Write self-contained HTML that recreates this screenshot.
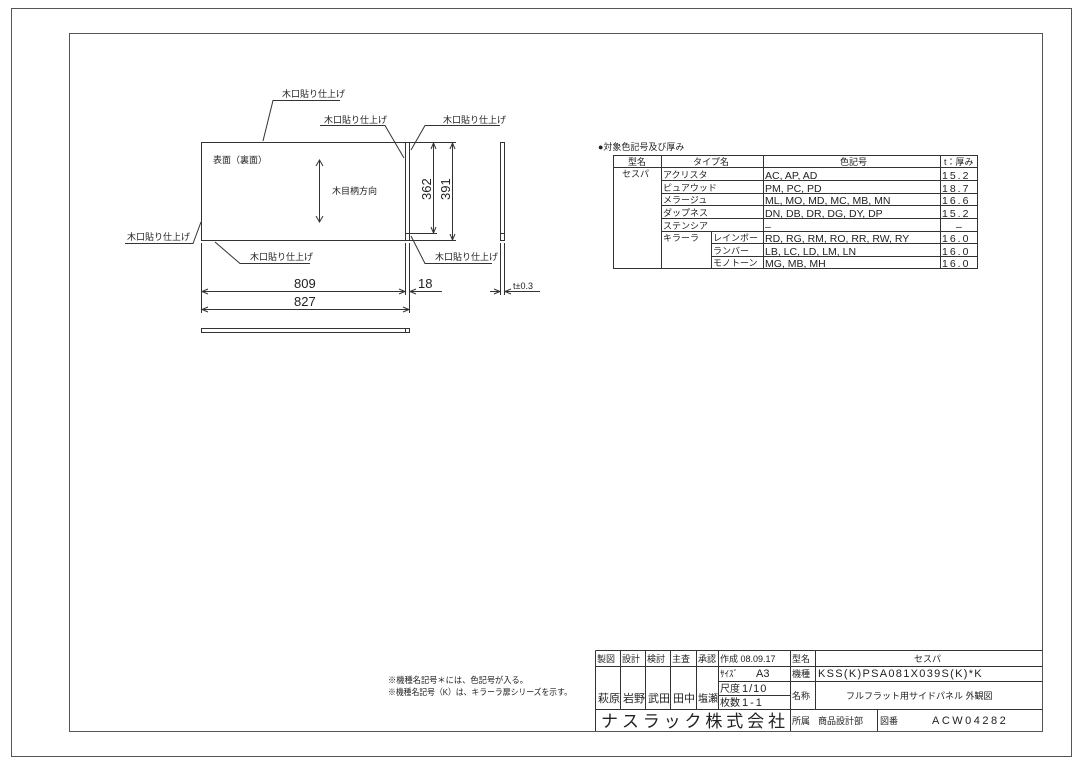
<!DOCTYPE html>
<html><head><meta charset="utf-8"><style>
html,body{margin:0;padding:0;background:#fff;}
svg{display:block;}
text{font-family:"Liberation Sans","Noto Sans CJK JP",sans-serif;fill:#222;}
.j{font-size:9px;}
.t{font-size:10.5px;}
</style></head><body>
<svg width="1080" height="764" viewBox="0 0 1080 764" xmlns="http://www.w3.org/2000/svg">
<g fill="none" stroke="#555" stroke-width="1">
<rect x="11.5" y="8.5" width="1060" height="748"/>
<rect x="69.5" y="33.5" width="973" height="698"/>
</g>
<g fill="none" stroke="#333" stroke-width="1">
<rect x="201.5" y="142.5" width="204" height="98"/>
<rect x="405.5" y="142.5" width="4" height="98"/>
<line x1="405.5" y1="233.5" x2="409.5" y2="233.5"/>
<line x1="319.5" y1="160" x2="319.5" y2="222"/>
<polyline points="316,166 319.5,160 323,166"/>
<polyline points="316,216 319.5,222 323,216"/>
<line x1="410" y1="142.5" x2="456" y2="142.5"/>
<line x1="410" y1="233.5" x2="437" y2="233.5"/>
<line x1="410" y1="240.5" x2="456" y2="240.5"/>
<line x1="433.5" y1="143" x2="433.5" y2="233"/>
<line x1="452.5" y1="143" x2="452.5" y2="240"/>
<polyline points="431,149 433.5,143 436,149"/><polyline points="431,227 433.5,233 436,227"/>
<polyline points="450,149 452.5,143 455,149"/><polyline points="450,234 452.5,240 455,234"/>
<line x1="201.5" y1="243" x2="201.5" y2="313"/>
<line x1="405.5" y1="243" x2="405.5" y2="295"/>
<line x1="409.5" y1="243" x2="409.5" y2="313"/>
<line x1="202" y1="291.5" x2="405" y2="291.5"/>
<polyline points="208,289 202,291.5 208,294"/><polyline points="399,289 405,291.5 399,294"/>
<line x1="410" y1="291.5" x2="442" y2="291.5"/>
<polyline points="416,289 410,291.5 416,294"/>
<line x1="202" y1="309.5" x2="409" y2="309.5"/>
<polyline points="208,307 202,309.5 208,312"/><polyline points="403,307 409,309.5 403,312"/>
<rect x="500.5" y="142.5" width="4" height="98"/>
<line x1="500.5" y1="233.5" x2="504.5" y2="233.5"/>
<line x1="500.5" y1="243" x2="500.5" y2="295"/>
<line x1="504.5" y1="243" x2="504.5" y2="295"/>
<line x1="490" y1="291.5" x2="500" y2="291.5"/>
<polyline points="494,289 500,291.5 494,294"/>
<line x1="505" y1="291.5" x2="540" y2="291.5"/>
<polyline points="511,289 505,291.5 511,294"/>
<rect x="201.5" y="328.5" width="208" height="4"/>
<line x1="405.5" y1="328.5" x2="405.5" y2="332.5"/>
<polyline points="340,100.5 273,100.5 263,141"/>
<polyline points="320,125.5 385,125.5 404,158"/>
<polyline points="500,125.5 425,125.5 411,150"/>
<polyline points="125,243.5 193,243.5 201,222"/>
<polyline points="310,263.5 240,263.5 215,242"/>
<polyline points="492,263.5 425,263.5 411,236"/>
</g>
<g class="j">
<text x="282" y="97">木口貼り仕上げ</text>
<text x="324" y="123">木口貼り仕上げ</text>
<text x="443" y="123">木口貼り仕上げ</text>
<text x="127" y="240">木口貼り仕上げ</text>
<text x="250" y="260">木口貼り仕上げ</text>
<text x="435" y="260">木口貼り仕上げ</text>
<text x="213" y="163">表面（裏面）</text>
<text x="332" y="194">木目柄方向</text>
</g>
<g font-size="13">
<text x="294" y="288">809</text>
<text x="294" y="306">827</text>
<text x="418" y="288">18</text>
<text x="431" y="200" transform="rotate(-90 431 200)">362</text>
<text x="450" y="200" transform="rotate(-90 450 200)">391</text>
</g>
<text x="513" y="289" font-size="9">t±0.3</text>
<text x="598" y="150" class="j">●対象色記号及び厚み</text>
<g fill="none" stroke="#333" stroke-width="1">
<rect x="613.5" y="155.5" width="364" height="113"/>
<line x1="613.5" y1="167.5" x2="977.5" y2="167.5"/>
<line x1="661.5" y1="155.5" x2="661.5" y2="268.5"/>
<line x1="763.5" y1="155.5" x2="763.5" y2="268.5"/>
<line x1="940.5" y1="155.5" x2="940.5" y2="268.5"/>
<line x1="711.5" y1="231.5" x2="711.5" y2="268.5"/>
<line x1="661.5" y1="180.5" x2="977.5" y2="180.5"/>
<line x1="661.5" y1="193.5" x2="977.5" y2="193.5"/>
<line x1="661.5" y1="205.5" x2="977.5" y2="205.5"/>
<line x1="661.5" y1="218.5" x2="977.5" y2="218.5"/>
<line x1="661.5" y1="231.5" x2="977.5" y2="231.5"/>
<line x1="711.5" y1="243.5" x2="977.5" y2="243.5"/>
<line x1="711.5" y1="256.5" x2="977.5" y2="256.5"/>
</g>
<g class="j">
<text x="628" y="165">型名</text>
<text x="693" y="165">タイプ名</text>
<text x="840" y="165">色記号</text>
<text x="944" y="165">t：厚み</text>
<text x="622" y="177">セスパ</text>
<text x="663" y="178">アクリスタ</text>
<text x="663" y="191">ピュアウッド</text>
<text x="663" y="203">メラージュ</text>
<text x="663" y="216">ダップネス</text>
<text x="663" y="229">ステンシア</text>
<text x="663" y="241">キラーラ</text>
<text x="713" y="241">レインボー</text>
<text x="713" y="254">ランバー</text>
<text x="713" y="266">モノトーン</text>
</g>
<g class="t">
<text x="765" y="179">AC, AP, AD</text>
<text x="765" y="192">PM, PC, PD</text>
<text x="765" y="204">ML, MO, MD, MC, MB, MN</text>
<text x="765" y="217">DN, DB, DR, DG, DY, DP</text>
<text x="765" y="230">–</text>
<text x="765" y="242">RD, RG, RM, RO, RR, RW, RY</text>
<text x="765" y="255">LB, LC, LD, LM, LN</text>
<text x="765" y="267">MG, MB, MH</text>
<text x="942" y="179" letter-spacing="2">15.2</text>
<text x="942" y="192" letter-spacing="2">18.7</text>
<text x="942" y="204" letter-spacing="2">16.6</text>
<text x="942" y="217" letter-spacing="2">15.2</text>
<text x="956" y="230">–</text>
<text x="942" y="242" letter-spacing="2">16.0</text>
<text x="942" y="255" letter-spacing="2">16.0</text>
<text x="942" y="267" letter-spacing="2">16.0</text>
</g>
<text x="388" y="683" font-size="8.5" textLength="140" lengthAdjust="spacingAndGlyphs">※機種名記号＊には、色記号が入る。</text>
<text x="388" y="695" font-size="8.5" textLength="184" lengthAdjust="spacingAndGlyphs">※機種名記号（K）は、キラーラ扉シリーズを示す。</text>
<g fill="none" stroke="#333" stroke-width="1">
<line x1="595.5" y1="650.5" x2="1042.5" y2="650.5"/>
<line x1="595.5" y1="650.5" x2="595.5" y2="731"/>
<line x1="595.5" y1="666.5" x2="718.5" y2="666.5"/>
<line x1="718.5" y1="666.5" x2="1042.5" y2="666.5"/>
<line x1="718.5" y1="681.5" x2="1042.5" y2="681.5"/>
<line x1="718.5" y1="695.5" x2="790.5" y2="695.5"/>
<line x1="595.5" y1="709.5" x2="1042.5" y2="709.5"/>
<line x1="620.5" y1="650.5" x2="620.5" y2="709.5"/>
<line x1="645.5" y1="650.5" x2="645.5" y2="709.5"/>
<line x1="670.5" y1="650.5" x2="670.5" y2="709.5"/>
<line x1="696.5" y1="650.5" x2="696.5" y2="709.5"/>
<line x1="718.5" y1="650.5" x2="718.5" y2="709.5"/>
<line x1="790.5" y1="650.5" x2="790.5" y2="731"/>
<line x1="815.5" y1="650.5" x2="815.5" y2="709.5"/>
<line x1="877.5" y1="709.5" x2="877.5" y2="731"/>
</g>
<g class="j">
<text x="597" y="662">製図</text><text x="622" y="662">設計</text><text x="647" y="662">検討</text>
<text x="672" y="662">主査</text><text x="698" y="662">承認</text>
<text x="720" y="662">作成 08.09.17</text>
<text x="792" y="662">型名</text>
<text x="914" y="662">セスパ</text>
<text x="720" y="677">ｻｲｽﾞ</text>
<text x="792" y="677">機種</text>
<text x="720" y="692" font-size="10">尺度</text>
<text x="720" y="706" font-size="10">枚数</text>
<text x="792" y="699">名称</text>
<text x="846" y="699">フルフラット用サイドパネル 外観図</text>
<text x="598" y="702" font-size="11">萩原</text><text x="623" y="702" font-size="11">岩野</text>
<text x="648" y="702" font-size="11">武田</text><text x="673" y="702" font-size="11">田中</text>
<text x="698" y="702" font-size="10">塩瀬</text>
<text x="792" y="724">所属</text>
<text x="818" y="724">商品設計部</text>
<text x="880" y="724">図番</text>
</g>
<text x="756" y="677" font-size="11">A3</text>
<text x="742" y="692" font-size="11" letter-spacing="1">1/10</text>
<text x="742" y="706" font-size="11" letter-spacing="2">1-1</text>
<text x="818" y="677" font-size="11" letter-spacing="1.3">KSS(K)PSA081X039S(K)*K</text>
<text x="932" y="724" font-size="11" letter-spacing="2.5">ACW04282</text>
<text x="601" y="727" font-size="17" textLength="184" lengthAdjust="spacing">ナスラック株式会社</text>
</svg>
</body></html>
